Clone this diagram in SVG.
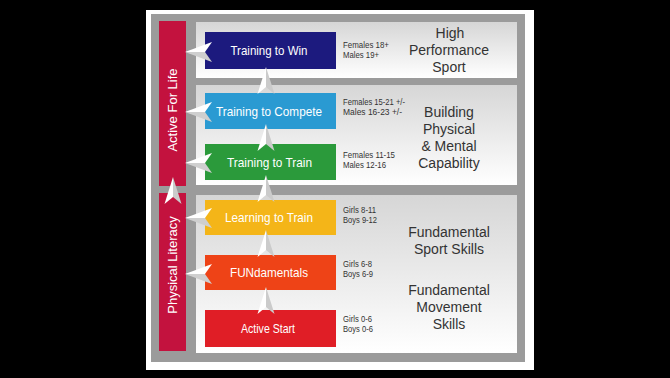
<svg xmlns="http://www.w3.org/2000/svg" width="670" height="378" viewBox="0 0 670 378">
<defs>
<linearGradient id="sec" x1="0" y1="0" x2="0" y2="1">
<stop offset="0" stop-color="#d6d6d6"/>
<stop offset="1" stop-color="#ffffff"/>
</linearGradient>
<g id="la">
<polygon points="0,0 27,-10 20,0" fill="#ffffff"/>
<polygon points="0,0 20,0 27,10" fill="#cfcfcf"/>
</g>
<g id="ua">
<polygon points="0,0 -8.5,27 0,20" fill="#ffffff"/>
<polygon points="0,0 0,20 8.5,27" fill="#cbcbcb"/>
</g>
</defs>
<style>
.box{stroke:none}
.lbl{font-family:"Liberation Sans",Arial,sans-serif;font-size:13px;fill:#ffffff;text-anchor:middle}
.bar{font-family:"Liberation Sans",Arial,sans-serif;font-size:13px;fill:#ffffff;text-anchor:middle}
.age{font-family:"Liberation Sans",Arial,sans-serif;font-size:9px;fill:#333333}
.cat{font-family:"Liberation Sans",Arial,sans-serif;font-size:14px;fill:#333333;text-anchor:middle}
</style>
<rect width="670" height="378" fill="#000000"/>
<rect x="146" y="10" width="388" height="360" fill="#ffffff"/>
<rect x="151" y="14" width="374" height="348" fill="#9b9b9b"/>
<g id="sections">
<rect x="196" y="22" width="321" height="56" fill="url(#sec)"/>
<rect x="196" y="85" width="321" height="100" fill="url(#sec)"/>
<rect x="196" y="195" width="321" height="158" fill="url(#sec)"/>
</g>
<g id="active-for-life">
<rect x="159" y="21" width="27" height="165" fill="#c3123e"/>
<text class="bar" transform="translate(177,110) rotate(-90)">Active For Life</text>
</g>
<g id="physical-literacy">
<rect x="159" y="193" width="27" height="158" fill="#c3123e"/>
<text class="bar" transform="translate(177,265) rotate(-90)">Physical Literacy</text>
</g>
<g id="training-to-win">
<rect class="box" x="205" y="32" width="131" height="37" fill="#1c1a7e"/>
<text class="lbl" x="269" y="55" textLength="77" lengthAdjust="spacingAndGlyphs">Training to Win</text>
<text class="age" x="343" y="48" textLength="46" lengthAdjust="spacingAndGlyphs">Females 18+</text>
<text class="age" x="343" y="58" textLength="36" lengthAdjust="spacingAndGlyphs">Males 19+</text>
</g>
<g id="training-to-compete">
<rect class="box" x="205" y="93" width="131" height="36" fill="#2a9ad2"/>
<text class="lbl" x="269" y="115.5" textLength="106" lengthAdjust="spacingAndGlyphs">Training to Compete</text>
<text class="age" x="343" y="105" textLength="62" lengthAdjust="spacingAndGlyphs">Females 15-21 +/-</text>
<text class="age" x="343" y="115" textLength="59" lengthAdjust="spacingAndGlyphs">Males 16-23 +/-</text>
</g>
<g id="training-to-train">
<rect class="box" x="205" y="144" width="131" height="36" fill="#2b9a3b"/>
<text class="lbl" x="269.5" y="166.5" textLength="85" lengthAdjust="spacingAndGlyphs">Training to Train</text>
<text class="age" x="343" y="158" textLength="52" lengthAdjust="spacingAndGlyphs">Females 11-15</text>
<text class="age" x="343" y="168" textLength="43" lengthAdjust="spacingAndGlyphs">Males 12-16</text>
</g>
<g id="learning-to-train">
<rect class="box" x="205" y="200" width="131" height="35" fill="#f4b518"/>
<text class="lbl" x="269" y="222" textLength="88" lengthAdjust="spacingAndGlyphs">Learning to Train</text>
<text class="age" x="343" y="213" textLength="33" lengthAdjust="spacingAndGlyphs">Girls 8-11</text>
<text class="age" x="343" y="223" textLength="34" lengthAdjust="spacingAndGlyphs">Boys 9-12</text>
</g>
<g id="fundamentals">
<rect class="box" x="205" y="255" width="131" height="35" fill="#ee4317"/>
<text class="lbl" x="269" y="277" textLength="78" lengthAdjust="spacingAndGlyphs">FUNdamentals</text>
<text class="age" x="343" y="267" textLength="29" lengthAdjust="spacingAndGlyphs">Girls 6-8</text>
<text class="age" x="343" y="277" textLength="30" lengthAdjust="spacingAndGlyphs">Boys 6-9</text>
</g>
<g id="active-start">
<rect class="box" x="205" y="310" width="131" height="37" fill="#e01e26"/>
<text class="lbl" x="268" y="333" font-size="12" textLength="54" lengthAdjust="spacingAndGlyphs">Active Start</text>
<text class="age" x="343" y="322" textLength="29" lengthAdjust="spacingAndGlyphs">Girls 0-6</text>
<text class="age" x="343" y="332" textLength="30" lengthAdjust="spacingAndGlyphs">Boys 0-6</text>
</g>
<g id="high-performance-sport">
<text class="cat" x="450" y="38">High</text>
<text class="cat" x="449" y="55">Performance</text>
<text class="cat" x="449" y="72">Sport</text>
</g>
<g id="building-capability">
<text class="cat" x="449" y="117">Building</text>
<text class="cat" x="449" y="134">Physical</text>
<text class="cat" x="449" y="151">&amp; Mental</text>
<text class="cat" x="449" y="168">Capability</text>
</g>
<g id="fundamental-sport-skills">
<text class="cat" x="449" y="237">Fundamental</text>
<text class="cat" x="449" y="254">Sport Skills</text>
</g>
<g id="fundamental-movement-skills">
<text class="cat" x="449" y="295">Fundamental</text>
<text class="cat" x="449" y="312">Movement</text>
<text class="cat" x="449" y="329">Skills</text>
</g>
<g id="connectors">
<use href="#la" x="185" y="52"/>
<use href="#la" x="185" y="112"/>
<use href="#la" x="185" y="163"/>
<use href="#la" x="185" y="218"/>
<use href="#la" x="185" y="274"/>
<use href="#ua" x="266" y="67"/>
<use href="#ua" x="266" y="124"/>
<use href="#ua" x="266" y="175"/>
<use href="#ua" x="266" y="230"/>
<use href="#ua" x="266" y="287"/>
<use href="#ua" x="173" y="177"/>
</g>
</svg>
